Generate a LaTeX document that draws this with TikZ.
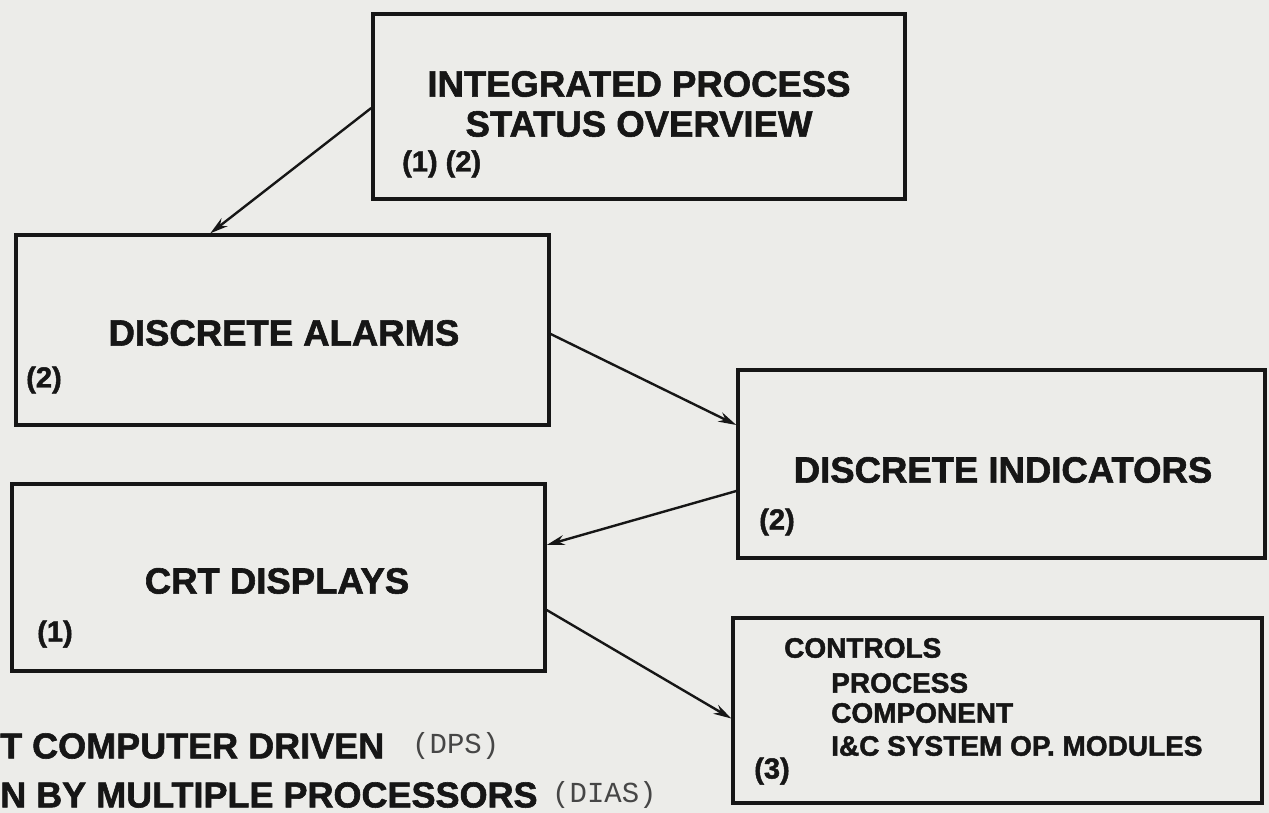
\documentclass[tikz,border=0pt]{standalone}
\usepackage{fontspec}
\setmainfont{Liberation Sans}[BoldFeatures={FakeBold=1.6}]
\newfontfamily\lightmono{Liberation Mono}
\usetikzlibrary{arrows.meta}
\definecolor{paper}{RGB}{236,236,233}
\definecolor{ink}{RGB}{22,22,22}
\definecolor{inklight}{RGB}{70,70,70}
\tikzset{
  blockbox/.style={draw=ink, line width=3.4pt, rectangle, inner sep=0pt},
  bigtxt/.style={inner sep=0pt, text=ink, font=\fontsize{36.5}{40}\selectfont\bfseries},
  numtxt/.style={inner sep=0pt, text=ink, font=\fontsize{29}{32}\selectfont\bfseries},
  ctltxt/.style={inner sep=0pt, text=ink, anchor=west, font=\fontsize{28}{31}\selectfont\bfseries},
  foottxt/.style={inner sep=0pt, text=ink, anchor=west, font=\fontsize{36}{40}\selectfont\bfseries},
  monotxt/.style={inner sep=0pt, text=inklight, anchor=west, font=\fontsize{29}{32}\selectfont\lightmono},
  link/.style={draw=ink, line width=2.4pt, -{Stealth[length=18pt,width=10pt]}}
}
\begin{document}
\begin{tikzpicture}[x=1pt,y=-1pt]
\useasboundingbox (0,0) rectangle (1269,813);
\fill[paper] (0,0) rectangle (1269,813);

% boxes
\node[blockbox, minimum width=532pt, minimum height=185pt] (ov) at (639,106.5) {};
\node[blockbox, minimum width=533pt, minimum height=190pt] (al) at (282.5,330) {};
\node[blockbox, minimum width=533pt, minimum height=187pt] (crt) at (278.5,577.5) {};
\node[blockbox, minimum width=527pt, minimum height=188pt] (ind) at (1001.5,464) {};
\node[blockbox, minimum width=529pt, minimum height=185pt] (ctl) at (997.5,710.5) {};

% texts
\node[bigtxt] (ov1) at (639,84) {INTEGRATED PROCESS};
\node[bigtxt] (ov2) at (639,124) {STATUS OVERVIEW};
\node[numtxt, anchor=west] (ov3) at (402,164) {(1) (2)};

\node[bigtxt] (al1) at (284,333) {DISCRETE ALARMS};
\node[numtxt] (al2) at (44,380) {(2)};

\node[bigtxt] (crt1) at (277,581) {CRT DISPLAYS};
\node[numtxt] (crt2) at (55,634) {(1)};

\node[bigtxt] (ind1) at (1003,470) {DISCRETE INDICATORS};
\node[numtxt] (ind2) at (777,522) {(2)};

\node[ctltxt] (c1) at (784,648) {CONTROLS};
\node[ctltxt] (c2) at (831,683) {PROCESS};
\node[ctltxt] (c3) at (831,713) {COMPONENT};
\node[ctltxt] (c4) at (831,746) {I\&C SYSTEM OP. MODULES};
\node[numtxt] (c5) at (772,771) {(3)};

% footnotes
\node[foottxt] (f1) at (0,746) {T COMPUTER DRIVEN};
\node[monotxt] (f1b) at (412,746) {(DPS)};
\node[foottxt] (f2) at (0,795) {N BY MULTIPLE PROCESSORS};
\node[monotxt] (f2b) at (552,795) {(DIAS)};

% connectors
\draw[link] ([yshift=-1.5pt]ov.west) -- ([xshift=196pt]al.north west);
\draw[link] ([yshift=-4pt]al.east) -- ([yshift=39pt]ind.west);
\draw[link] ([yshift=-27pt]ind.west) -- ([yshift=32.5pt]crt.east);
\draw[link] ([yshift=-32.5pt]crt.east) -- ([yshift=-8pt]ctl.west);
\end{tikzpicture}
\end{document}
